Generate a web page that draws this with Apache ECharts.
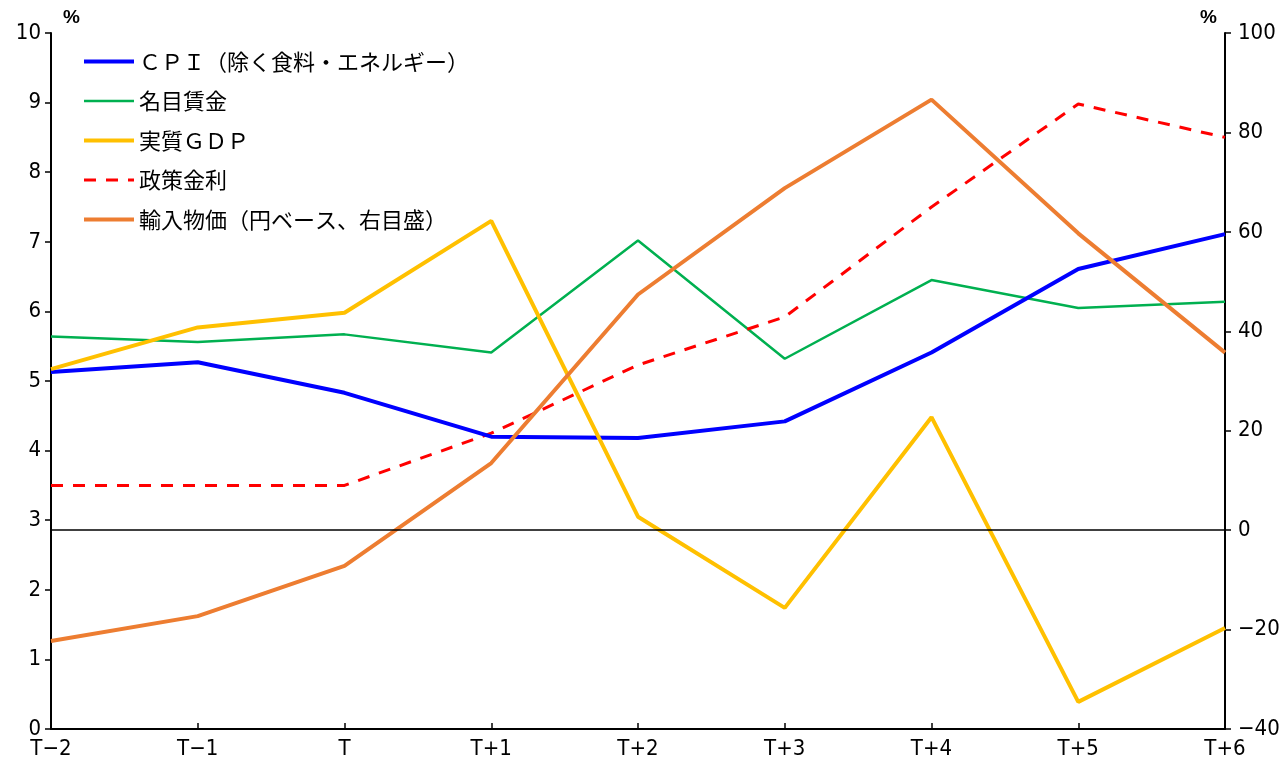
<!DOCTYPE html>
<html><head><meta charset="utf-8">
<script src="https://cdn.jsdelivr.net/npm/echarts@6/dist/echarts.min.js"></script>
<style>html,body{margin:0;padding:0;background:#fff}#c{width:1279px;height:762px}</style>
</head><body><div id="c"></div>
<script>
const categories = ['T−2','T−1','T','T+1','T+2','T+3','T+4','T+5','T+6'];
const cpi    = [5.13, 5.27, 4.83, 4.20, 4.18, 4.42, 5.41, 6.61, 7.11];
const wage   = [5.64, 5.56, 5.67, 5.41, 7.02, 5.32, 6.45, 6.05, 6.14];
const gdp    = [5.17, 5.77, 5.98, 7.30, 3.05, 1.74, 4.48, 0.39, 1.45];
const policy = [3.50, 3.50, 3.50, 4.25, 5.23, 5.92, 7.50, 8.98, 8.50];
const importPrice = [-22.3, -17.3, -7.2, 13.5, 47.4, 68.8, 86.6, 59.7, 35.7];
const names = ['ＣＰＩ（除く食料・エネルギー）','名目賃金','実質ＧＤＰ','政策金利','輸入物価（円ベース、右目盛）'];

const labelFont = {fontFamily:'"DejaVu Sans Condensed", "Liberation Sans", sans-serif', fontSize:22, color:'#000'};
const chart = echarts.init(document.getElementById('c'));
chart.setOption({
  animation:false,
  grid:{left:51,right:54,top:33,bottom:33,containLabel:false,outerBoundsMode:'none'},
  legend:{
    data:names, orient:'vertical', left:77, top:45.5, itemWidth:50, itemHeight:24, itemGap:17.5,
    itemTextGap:2,
    itemStyle:{opacity:0},
    lineStyle:{width:'inherit'},
    textStyle:{fontFamily:'Noto Sans CJK JP', fontSize:22, color:'#000'}
  },
  xAxis:{
    type:'category', data:categories, boundaryGap:false,
    axisLine:{lineStyle:{color:'#000',width:2}},
    axisTick:{inside:true,length:6,lineStyle:{color:'#000',width:1.5}},
    axisLabel:Object.assign({margin:9}, labelFont),
    splitLine:{show:false}
  },
  yAxis:[{
    type:'value', min:0, max:10, interval:1, position:'left',
    name:'%', nameGap:6, nameTextStyle:{fontFamily:'Liberation Sans',fontSize:19,fontWeight:'bold',color:'#000',align:'left',padding:[0,0,0,12]},
    axisLine:{show:true,lineStyle:{color:'#000',width:2}},
    axisTick:{show:true,length:6,lineStyle:{color:'#000',width:1.5}},
    axisLabel:Object.assign({margin:10}, labelFont),
    splitLine:{show:false}
  },{
    type:'value', min:-40, max:100, interval:20, position:'right',
    name:'%', nameGap:6, nameTextStyle:{fontFamily:'Liberation Sans',fontSize:19,fontWeight:'bold',color:'#000',align:'right',padding:[0,8,0,0]},
    axisLine:{show:true,lineStyle:{color:'#000',width:2}},
    axisTick:{show:true,length:6,lineStyle:{color:'#000',width:1.5}},
    axisLabel:Object.assign({margin:13, formatter:v=>String(v).replace('-','−')}, labelFont),
    splitLine:{show:false}
  }],
  series:[
    {name:names[1], type:'line', data:wage, yAxisIndex:0, showSymbol:false, symbol:'none',
     lineStyle:{color:'#00B050',width:2.5}, itemStyle:{color:'#00B050'}},
    {name:names[3], type:'line', data:policy, yAxisIndex:0, showSymbol:false, symbol:'none',
     lineStyle:{color:'#FF0000',width:3,type:[12,10]}, itemStyle:{color:'#FF0000'}},
    {name:names[0], type:'line', data:cpi, yAxisIndex:0, showSymbol:false, symbol:'none',
     lineStyle:{color:'#0000FF',width:4}, itemStyle:{color:'#0000FF'}},
    {name:names[2], type:'line', data:gdp, yAxisIndex:0, showSymbol:false, symbol:'none',
     lineStyle:{color:'#FFC000',width:4}, itemStyle:{color:'#FFC000'}},
    {name:names[4], type:'line', data:importPrice, yAxisIndex:1, showSymbol:false, symbol:'none',
     lineStyle:{color:'#ED7D31',width:4}, itemStyle:{color:'#ED7D31'},
     markLine:{silent:true, symbol:['none','none'], label:{show:false},
       lineStyle:{color:'#000',width:1.5,type:'solid'}, data:[{yAxis:0}]}}
  ]
});
</script></body></html>
